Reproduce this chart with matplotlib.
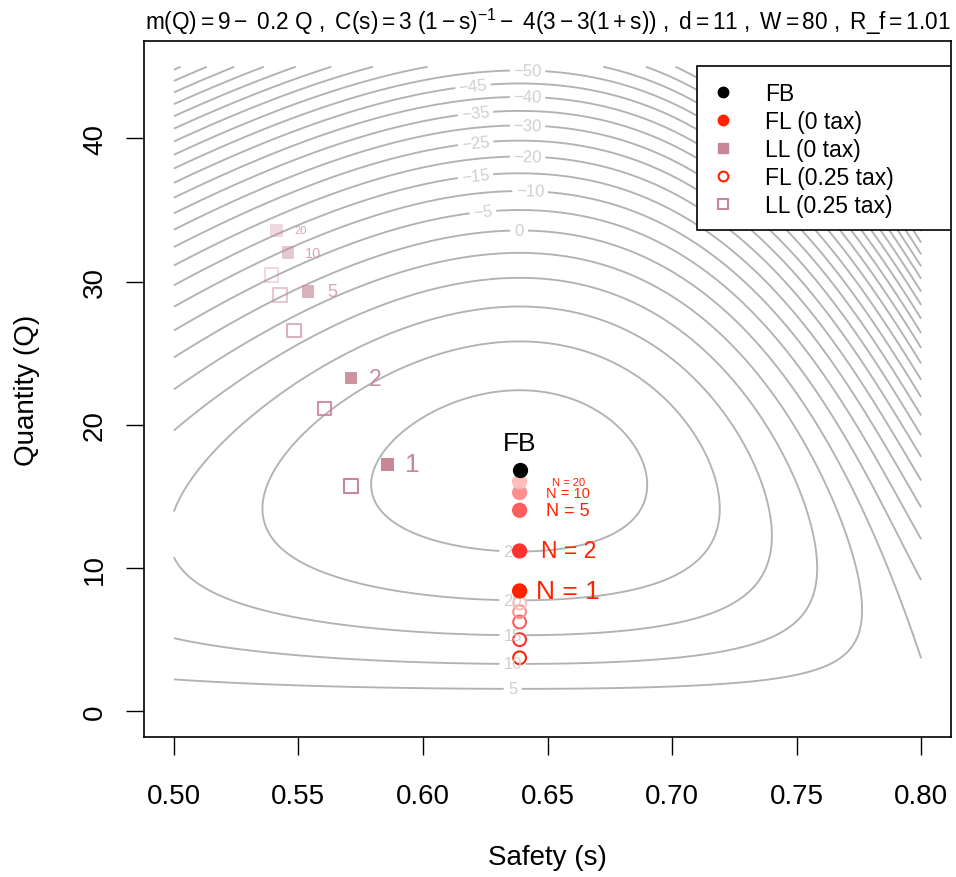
import numpy as np
import matplotlib
matplotlib.use("Agg")
import matplotlib.pyplot as plt
from matplotlib.colors import to_rgba
from matplotlib.lines import Line2D
from matplotlib.patches import Rectangle

plt.rcParams['font.family'] = ['Liberation Sans', 'DejaVu Sans']
plt.rcParams['mathtext.fontset'] = 'custom'
plt.rcParams['mathtext.rm'] = 'Liberation Sans'
plt.rcParams['mathtext.it'] = 'Liberation Sans'
plt.rcParams['mathtext.default'] = 'regular'

# demand m(Q) = 9 - 0.2 Q
m_a, m_b = 9.0, 0.2
# unit cost (production + expected damage)
cost_a, cost_b, cost_g = 3.0, 23.0, 12.03

# contour grid
s_lo, s_hi = 0.5, 0.8
q_lo, q_hi = 0.01, 45.0
levels = np.arange(-185, 30, 5)

# labelled contours and where their labels sit (s, Q)
label_levels = [-50, -45, -40, -35, -30, -25, -20, -15, -10, -5, 0, 5, 10, 15, 20, 25]
label_pos = [(0.642, 44.8), (0.620, 43.8), (0.642, 42.9), (0.621, 41.9),
             (0.642, 40.9), (0.621, 39.9), (0.642, 38.7), (0.621, 37.5),
             (0.643, 36.3), (0.624, 35.0), (0.6386, 33.6), (0.636, 1.55),
             (0.636, 3.3), (0.636, 5.25), (0.636, 7.7), (0.636, 11.1)]

# points
n_firms = [1, 2, 5, 10, 20]
fb_s, fb_q = 0.6388, 16.85
fl_s = [0.6388, 0.6388, 0.6388, 0.6388, 0.6388]
fl_q = [8.40, 11.19, 14.03, 15.27, 16.03]
fl_tax_q = [3.73, 5.00, 6.23, 6.95, 7.55]
ll_s = [0.5858, 0.5711, 0.5539, 0.5459, 0.5412]
ll_q = [17.24, 23.25, 29.30, 32.02, 33.58]
ll_tax_s = [0.5711, 0.5604, 0.5482, 0.5426, 0.5392]
ll_tax_q = [15.73, 21.15, 26.60, 29.06, 30.46]

# styles
fl_col = '#FF2200'
fl_cols = ['#FF2200', '#FF3232', '#FF5E5E', '#FF8F8F', '#FFBDBD']
ll_col = '#C88796'
ll_shade = [1.0, 0.9, 0.64, 0.45, 0.31]
ll_txt_shade = [1.0, 0.95, 0.75, 0.7, 0.75]
txt_size = [19, 16.5, 13, 10.5, 8]
line_col = '#B2B2B2'


def surplus(s, q):
    unit_cost = cost_a / (1 - s) - cost_b * s + cost_g
    return m_a * q - m_b / 2 * q ** 2 - unit_cost * q


S, Q = np.meshgrid(np.linspace(s_lo, s_hi, 301), np.linspace(q_lo, q_hi, 450))
Z = surplus(S, Q)

fig = plt.figure(figsize=(9.56, 8.78), dpi=100)
ax = fig.add_axes([144 / 956, 1 - 738 / 878, (951 - 144) / 956, (738 - 42) / 878])

plain_levels = [v for v in levels if v not in label_levels]
ax.contour(S, Q, Z, levels=plain_levels, colors=line_col, linewidths=1.35,
           linestyles='solid')
cs = ax.contour(S, Q, Z, levels=label_levels, colors=line_col, linewidths=1.35,
                linestyles='solid')
ax.clabel(cs, manual=label_pos, inline=True, fontsize=12,
          colors='#CFCFCF', fmt=lambda v: f'{v:.0f}'.replace('-', '\u2212'))

ll_rgba = [to_rgba(ll_col, a) for a in ll_shade]

# 0.25 tax (open markers)
ax.scatter(fl_s, fl_tax_q, s=85, facecolors='none', edgecolors=fl_cols, linewidths=1.5, zorder=3)
ax.scatter(ll_tax_s, ll_tax_q, s=90, marker='s', facecolors='none', edgecolors=ll_rgba,
           linewidths=1.5, zorder=3)
# 0 tax (filled markers)
ax.scatter(fl_s, fl_q, s=121, color=fl_cols, linewidths=0, zorder=4)
ax.scatter(ll_s, ll_q, s=80, marker='s', color=ll_rgba, linewidths=0, zorder=4)
ax.scatter([fb_s], [fb_q], s=121, color='black', linewidths=0, zorder=5)
ax.text(fb_s, fb_q + 1.9, 'FB', ha='center', va='center', fontsize=19)

for i, n in enumerate(n_firms):
    ax.text(fl_s[i] + 0.0195, fl_q[i], f'N = {n}', ha='center', va='center',
            fontsize=txt_size[i], color=fl_col)
    ax.text(ll_s[i] + 0.0098, ll_q[i], f'{n}', ha='center', va='center',
            fontsize=txt_size[i], color=to_rgba(ll_col, ll_txt_shade[i]))

ax.set_xlim(0.488, 0.812)
ax.set_ylim(-1.8, 46.8)
ax.set_xticks([0.50, 0.55, 0.60, 0.65, 0.70, 0.75, 0.80])
ax.set_xticklabels(['0.50', '0.55', '0.60', '0.65', '0.70', '0.75', '0.80'])
ax.set_yticks([0, 10, 20, 30, 40])
ax.tick_params(length=13, width=1, labelsize=20)
ax.tick_params(axis='x', pad=20)
ax.tick_params(axis='y', pad=13)
for lab in ax.get_yticklabels():
    lab.set_rotation(90)
    lab.set_va('center')
for sp in ax.spines.values():
    sp.set_linewidth(1.2)

# legend box drawn by hand so its padding matches
ax.add_patch(Rectangle((553 / 807, 507 / 696), 254 / 807, 164 / 696, transform=ax.transAxes,
                       facecolor='white', edgecolor='black', linewidth=1.2, zorder=6))
handles = [
    Line2D([], [], ls='none', marker='o', ms=7.5, mfc='black', mec='black'),
    Line2D([], [], ls='none', marker='o', ms=7.5, mfc=fl_col, mec=fl_col),
    Line2D([], [], ls='none', marker='s', ms=6.5, mfc=ll_col, mec=ll_col),
    Line2D([], [], ls='none', marker='o', ms=7, mfc='none', mec=fl_col, mew=1.5),
    Line2D([], [], ls='none', marker='s', ms=7, mfc='none', mec=ll_col, mew=1.5),
]
names = ['FB', 'FL (0 tax)', 'LL (0 tax)', 'FL (0.25 tax)', 'LL (0.25 tax)']
leg = ax.legend(handles, names, loc='upper left',
                bbox_to_anchor=((711.5 - 144) / 807, (738 - 83) / 696),
                fontsize=16.5, frameon=False, borderaxespad=0, borderpad=0,
                handlelength=1.0, handletextpad=1.33, labelspacing=0.22)
leg.set_zorder(7)

fig.text(547.5 / 956, 1 - 22 / 878,
         r'$m(Q) = 9 -\ 0.2\ Q\ ,\ C(s) = 3\ (1 - s)^{-1} -\ 4(3 - 3(1 + s))\ ,\ d = 11\ ,\ W = 80\ ,\ R\_f = 1.01$',
         ha='center', va='center', fontsize=16.3)
fig.text(547.5 / 956, 1 - 858 / 878, 'Safety (s)', ha='center', va='center', fontsize=20)
fig.text(27 / 956, 1 - 390 / 878, 'Quantity (Q)', ha='center', va='center', fontsize=20,
         rotation=90)

fig.savefig('out.png', dpi=100)
